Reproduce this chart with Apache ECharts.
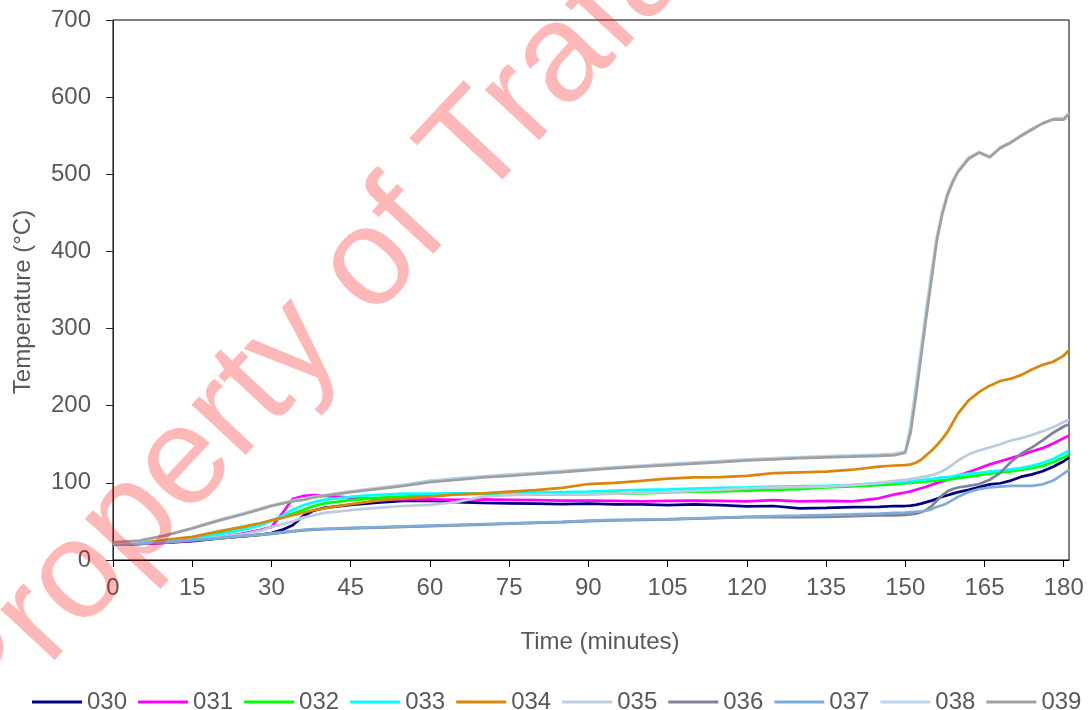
<!DOCTYPE html>
<html>
<head>
<meta charset="utf-8">
<script src="https://cdn.jsdelivr.net/npm/echarts@6/dist/echarts.min.js"></script>
<style>
html,body{margin:0;padding:0;background:#fff;}
#chart{width:1091px;height:710px;}
</style>
</head>
<body>
<div id="chart"></div>
<script>
// Time (minutes)
const times = [0,5,10,15,20,25,28,30,32,34,36,38,40,45,50,55,60,65,70,75,80,85,90,95,100,105,110,115,120,125,130,135,140,145,148,150,151,152,153,154,155,156,157,158,159,160,162,164,166,168,170,172,174,176,178,180,181];

const seriesNames = ['030','031','032','033','034','035','036','037','038','039'];

const s030 = [20,21,22.5,24.5,28,31,33,35,39,45,57,64,67.5,71.5,74.5,76.5,77,75,74,73.5,73,72.5,73,72,72,71,72,71,69.5,70,67,67.5,68.5,69,70,70,70.5,71.5,73,75,77,79.5,82,84,86,88,91,94.5,98,99.5,103,108,111,115,121,128,133];
const s031 = [20,21,22.5,25,29,35,39,43,60,79,83,84,83,81,79.5,78.5,78.5,78,78.5,78,77.5,77,77,76.5,76,76.5,77,76.5,76,77.5,76,76.5,76,80,85,87.5,89,91,93,95,97.5,100,102,104,106,109,114,119,124,128,132,136,141,145,151,158,161];
const s032 = [20,21.5,24,28,34,42,47,51,55,60,65,70,73.5,77.5,80.5,82,83.5,85,86,85.5,85,85,85.5,86,86.5,87.5,88.5,89,90,91,92,94,95.5,97,98.5,99.5,100,100.5,101,102,102.5,103,103.5,104,105,106,108,110,112,113.5,115,117,119,122,127,133,137];
const s033 = [20,21.5,24,28,33,40,45,51,57,65,71,75,78,82,84.5,86,86,86.5,86.5,87,87.5,88,88.5,90,91,91.5,92.5,93.5,94,95,95.5,96,97.5,99.5,101,101.5,102,103,103.5,104.5,105,106,107,107.5,108.5,110,112,113,114.5,116,117.5,119.5,122,126,131,138,142];
const s034 = [20,22,26,30,37,43.5,48,51.5,54.5,58,61.5,64.5,67,72.5,77,80,82,85,86.5,88.5,90.5,93.5,98.5,100,102.5,105.5,107,107.5,109,112.5,113.5,114.5,117,121,122.5,123,124,126,130,136,142,149,157,166,178,190,207,218,226,232,235,240,247,253,257,265,272];
const s035 = [20,21.5,23.5,26,29.5,34,38,43,46,50,55,58,61,64.5,67.5,70,71.5,75,82,84,85,85,85.5,86,87,88,89.5,91,93,94,94.5,95,97,100,102.5,104,105,106,107.5,108.5,110,112,115,119,124,129,137,142,146,150,155,158,162,167,172,179,182];
const s036 = [20,21.5,23,25.5,28,31,32.5,34,35.5,37,38.5,39.5,40,41,42,43,44,45,46,47,48,49,50.5,51.5,52,52.5,53.5,54.5,55.5,56,55.5,56,57,58,58,58.5,59,60,62,65,70,77,84,89,92,94,96,98.5,104,113,127,138,146,155,165,173,176];
const s037 = [21,22,23.5,26,28.5,31.5,33,34.5,36,37.5,39,40,40.5,41.5,42.5,43.5,44.5,45.5,46.5,47.5,48.5,49.5,51,52,52.5,53,54,55,56,57,57.5,58.3,59,60,61,61.5,62,62.5,63,64,66,69,71,74,78,82,88,92,94,95,96,96,96,98,103,112,117];
const s038 = [22,24.5,32,41.5,52,61,67,71,74,77,79.5,82,84,89,93.5,97.5,103,106,108.5,111,113,115.5,118,120.5,122.5,124.5,126.5,128.5,130.5,132,133.5,134.5,135.5,137,138,141,175,225,276,328,375,420,452,476,492,505,522,529,523,535,542,551,559,566,572,573,579];
const s039 = [23,25,32,41,51,60,66,70,73,76,78,81,83,88,92,96,101,104,107,109,111.5,114,116.5,119,121,123,125,127,129,130.5,132,133,134,135,136,139,165,212,264,316,365,415,448,473,490,503,520,528,522,534,541,550,558,566,571,571,578];

const xTicks = [0,15,30,45,60,75,90,105,120,135,150,165,180];
const yTicks = [0,100,200,300,400,500,600,700];

const values = [s030,s031,s032,s033,s034,s035,s036,s037,s038,s039];
const colors = ['#000080','#FF00FF','#00FF00','#00FFFF','#D9860B','#BCCCDC','#7F8299','#7EACD8','#B9D7EF','#A0A0A0'];

const FONT = '"Liberation Sans", Arial, sans-serif';
const TXT = '#595959';

const chart = echarts.init(document.getElementById('chart'), null, {renderer:'canvas'});
chart.setOption({
  animation: false,
  backgroundColor: '#fff',
  textStyle: {fontFamily: FONT},
  grid: {left: 113, right: 22, top: 20, bottom: 150, show: true, borderColor: '#000', borderWidth: 1, outerBoundsMode: 'none'},
  xAxis: {
    type: 'value', min: 0, max: 181, interval: 15,
    name: 'Time (minutes)', nameLocation: 'middle', nameGap: 70,
    nameTextStyle: {fontSize: 24, color: TXT, fontFamily: FONT, padding: [0, 0, 0, 18]},
    axisLine: {lineStyle: {color: '#000', width: 1}},
    axisTick: {show: true, length: 7, lineStyle: {color: '#000'}, customValues: xTicks},
    axisLabel: {fontSize: 24, color: TXT, margin: 16, fontFamily: FONT, customValues: xTicks},
    splitLine: {show: false}
  },
  yAxis: {
    type: 'value', min: 0, max: 700, interval: 100,
    name: 'Temperature (°C)', nameLocation: 'middle', nameGap: 78,
    nameTextStyle: {fontSize: 24, color: TXT, fontFamily: FONT, padding: [0, 24, 0, 0]},
    axisLine: {show: true, lineStyle: {color: '#262626', width: 1}},
    axisTick: {show: true, length: 7, lineStyle: {color: '#262626'}, customValues: yTicks},
    axisLabel: {fontSize: 24, color: TXT, margin: 22, fontFamily: FONT, customValues: yTicks},
    splitLine: {show: false}
  },
  legend: {
    data: seriesNames,
    left: 27, top: 685, width: 1064,
    icon: 'rect',
    itemWidth: 50, itemHeight: 3, itemGap: 11,
    textStyle: {fontSize: 24, color: TXT, fontFamily: FONT}
  },
  graphic: {elements: [{
    type: 'text', silent: true, z: 100,
    x: -44, y: 709, rotation: 47 * Math.PI / 180,
    style: {text: 'Property of Trafalgar', fontSize: 140, fontFamily: FONT,
            fill: 'rgba(255,0,0,0.28)', align: 'left', verticalAlign: 'middle'}
  }]},
  series: seriesNames.map((n, i) => ({
    name: n, type: 'line', symbol: 'none', showSymbol: false,
    color: colors[i],
    lineStyle: {width: 2.75, color: colors[i]},
    data: times.map((t, j) => [t, values[i][j]])
  }))
});
</script>
</body>
</html>
